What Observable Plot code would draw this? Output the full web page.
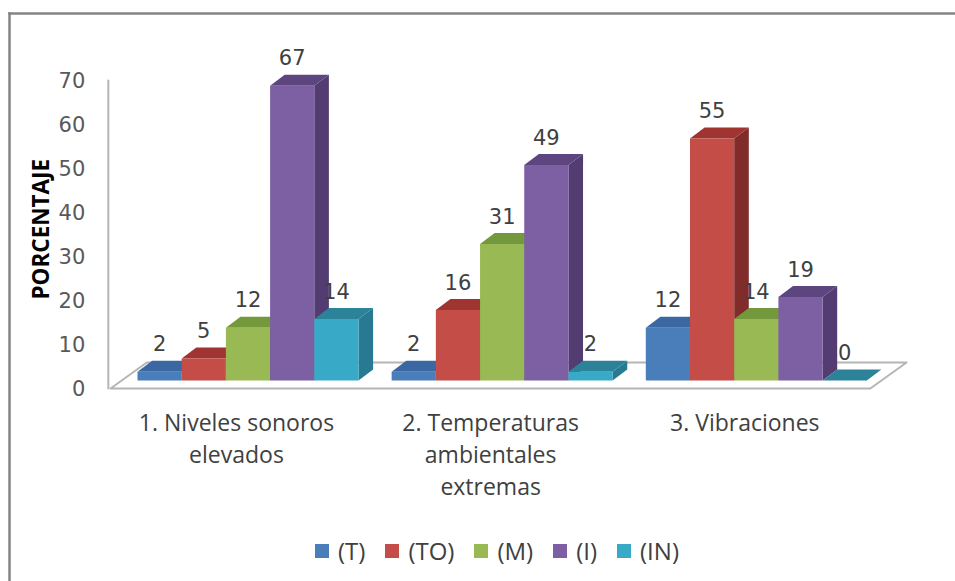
<!DOCTYPE html>
<html><head><meta charset="utf-8">
<style>
html,body{margin:0;padding:0;background:#fff;width:955px;height:581px;overflow:hidden}
#wrap{position:relative;width:955px;height:581px}
#legend{position:absolute;left:315px;top:535px;display:flex;align-items:center;gap:20px;font:24px "Open Sans",sans-serif;color:#404040;line-height:32px;white-space:nowrap}
#legend .item{display:flex;align-items:center;gap:9px}
#legend .sw{width:14px;height:14px;display:block}
</style>
<script src="https://cdn.jsdelivr.net/npm/d3@7"></script>
<script src="https://cdn.jsdelivr.net/npm/@observablehq/plot@0.6"></script>
</head><body><div id="wrap"><div id="chart"></div><div id="legend"></div></div>
<script>
const categories = ["1. Niveles sonoros\nelevados", "2. Temperaturas\nambientales\nextremas", "3. Vibraciones"];
const series = ["(T)", "(TO)", "(M)", "(I)", "(IN)"];
const valuesT = [2, 2, 12];
const valuesTO = [5, 16, 55];
const valuesM = [12, 31, 14];
const valuesI = [67, 49, 19];
const valuesIN = [14, 2, 0];
const frontColors = ["#4a7ebb", "#c44d48", "#98b954", "#7d5fa3", "#38a9c6"];
const topColors = ["#3b68a2", "#a03431", "#74983c", "#5d4680", "#2c8299"];
const sideColors = ["#33588a", "#7f2c2a", "#5f7e32", "#523c71", "#277a91"];
const yTicks = [0, 10, 20, 30, 40, 50, 60, 70];

const allValues = [valuesT, valuesTO, valuesM, valuesI, valuesIN];
// one x unit is one bar width, one y unit is one percentage point
const groupStep = 5.75, base = 1.82, depthX = 0.33, depthY = 2.5;
const bars = categories.flatMap((c, g) => series.map((s, i) => ({
  g, i, s, v: allValues[i][g], x0: g * groupStep + i, x1: g * groupStep + i + 1
})));
const faces = [];
bars.forEach(b => {
  const top = b.v + base, bot = base;
  const add = (name, fill, pts) => pts.forEach(([x, y]) => faces.push({id: `${b.g}-${b.i}-${name}`, fill, x, y}));
  add("side", sideColors[b.i], [[b.x1, bot], [b.x1 + depthX, bot + depthY], [b.x1 + depthX, top + depthY], [b.x1, top], [b.x1, bot]]);
  add("top", topColors[b.i], [[b.x0, top], [b.x0 + depthX, top + depthY], [b.x1 + depthX, top + depthY], [b.x1, top], [b.x0, top]]);
  add("front", frontColors[b.i], [[b.x0, bot], [b.x0, top], [b.x1, top], [b.x1, bot], [b.x0, bot]]);
});
const floorL = -0.61, floorR = 16.58, floorDX = 0.82, floorDY = 5.9;
const floor = [[floorL, 0], [floorL + floorDX, floorDY], [floorR + floorDX, floorDY], [floorR, 0], [floorL, 0]].map(([x, y]) => ({x, y}));
const wall = [[floorL - 0.05, 0], [floorL - 0.05, 70]].map(([x, y]) => ({x, y}));

const chart = Plot.plot({
  width: 955, height: 581,
  marginLeft: 9, marginTop: 13, marginRight: 0, marginBottom: 0,
  style: {background: "#fff"},
  x: {domain: [0, 1], range: [137, 181.2], axis: null},
  y: {domain: [0, 70], range: [388, 80], axis: null},
  marks: [
    Plot.frame({anchor: "top", stroke: "#858585", strokeWidth: 2.5}),
    Plot.frame({anchor: "left", stroke: "#858585", strokeWidth: 2.5}),
    Plot.line(floor, {x: "x", y: "y", stroke: "#b5b5b5", strokeWidth: 2}),
    Plot.line(wall, {x: "x", y: "y", stroke: "#b5b5b5", strokeWidth: 2}),
    Plot.line(faces, {x: "x", y: "y", z: "id", fill: "fill", stroke: "none"}),
    Plot.text(yTicks, {x: floorL - 0.05, y: d => d, text: d => String(d), dx: -23, dy: 1, textAnchor: "end",
      fontFamily: "DejaVu Sans", fontSize: 21, fill: "#595959"}),
    Plot.text(["PORCENTAJE"], {x: floorL - 0.05, y: 36.2, text: d => d, dx: -67, rotate: -90,
      fontFamily: "Open Sans", fontWeight: 700, fontSize: 22.5, fill: "#000"}),
    Plot.text(bars, {x: d => d.x0 + 0.5, y: d => d.v + base, text: d => String(d.v), dy: -27,
      fontFamily: "DejaVu Sans", fontSize: 21, fill: "#404040"}),
    Plot.text(categories, {x: (d, i) => i * groupStep + 2.5, y: 0, text: d => d, dx: -11.5, dy: 19, lineAnchor: "top",
      lineHeight: 1.41, fontFamily: "Open Sans", fontSize: 23, fill: "#404040", textAnchor: "middle"})
  ]
});
document.getElementById("chart").appendChild(chart);

const legend = document.getElementById("legend");
series.forEach((s, i) => {
  const item = document.createElement("div");
  item.className = "item";
  const sw = document.createElement("span");
  sw.className = "sw";
  sw.style.background = frontColors[i];
  const label = document.createElement("span");
  label.textContent = s;
  item.append(sw, label);
  legend.append(item);
});
</script>
</body></html>
